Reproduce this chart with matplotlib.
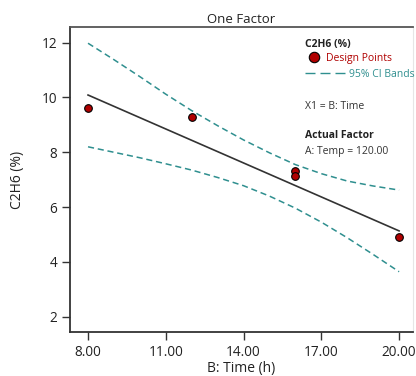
import numpy as np
import matplotlib
matplotlib.use("Agg")
import matplotlib.pyplot as plt
from matplotlib.lines import Line2D

plt.rcParams['font.family'] = ['Open Sans', 'DejaVu Sans']

# ----------------------------------------------------------------------
# Data
# ----------------------------------------------------------------------
time_pts = [8, 12, 16, 16, 20]                  # design points, B: Time (h)
c2h6_pts = [9.60, 9.28, 7.33, 7.14, 4.92]       # C2H6 (%)

fit_x = [8, 20]                                 # predicted line
fit_y = [10.09, 5.13]

band_x = [8, 9, 10, 11, 12, 13, 14, 15, 16, 17, 18, 19, 20]
band_upper = [11.98, 11.38, 10.76, 10.12, 9.52, 8.97, 8.45, 7.98, 7.55, 7.22, 6.95, 6.77, 6.62]
band_lower = [8.20, 8.00, 7.80, 7.58, 7.35, 7.08, 6.78, 6.40, 5.96, 5.45, 4.88, 4.27, 3.64]

x_ticks = [8, 11, 14, 17, 20]
y_ticks = [2, 4, 6, 8, 10, 12]

TEAL = '#2f8f8f'
RED = '#b00000'
LEG_FS = 7.5

# ----------------------------------------------------------------------
# Figure
# ----------------------------------------------------------------------
fig = plt.figure(figsize=(4.16, 3.76), dpi=100)
ax = fig.add_axes([0.168, 0.117, 0.825, 0.811])

ax.plot(band_x, band_upper, color=TEAL, lw=1.1, ls=(0, (4, 2.5)))
ax.plot(band_x, band_lower, color=TEAL, lw=1.1, ls=(0, (4, 2.5)))
ax.plot(fit_x, fit_y, color='#333333', lw=1.2)
ax.plot(time_pts, c2h6_pts, 'o', color=RED, mec='black', mew=0.8, ms=5.5,
        ls='none', zorder=5)

ax.set_xlim(7.3, 20.54)
ax.set_ylim(1.44, 12.57)
ax.set_xticks(x_ticks)
ax.set_xticklabels([f'{v:.2f}' for v in x_ticks])
ax.set_yticks(y_ticks)
ax.tick_params(direction='out', length=6, width=1, labelsize=9.8, pad=3,
               color='#333333', labelcolor='#222222')

for side in ['left', 'bottom']:
    ax.spines[side].set_color('#333333')
    ax.spines[side].set_linewidth(1.3)
ax.spines['top'].set_color('#555555')
ax.spines['top'].set_linewidth(1.3)
ax.spines['right'].set_color('#e6e6e6')
ax.spines['right'].set_linewidth(0.8)

ax.set_xlabel('B: Time (h)', fontsize=10, labelpad=1, color='#222222')
ax.set_ylabel('C2H6 (%)', fontsize=10, labelpad=12, color='#222222')
ax.set_title('One Factor', fontsize=9.5, pad=3, color='#222222')

# ----------------------------------------------------------------------
# Legend / annotation block
# ----------------------------------------------------------------------
ax.text(0.685, 0.944, 'C2H6 (%)', transform=ax.transAxes, fontsize=LEG_FS,
        fontweight='bold', va='center', ha='left', color='#222222')

leg1 = ax.legend(handles=[Line2D([], [], marker='o', ls='none', color=RED,
                                 mec='black', mew=0.8, ms=7.5)],
                 labels=['Design Points'], loc='center left',
                 bbox_to_anchor=(0.693, 0.897), frameon=False, fontsize=LEG_FS,
                 handlelength=1.2, handletextpad=0.6, borderpad=0,
                 borderaxespad=0, labelcolor=RED)
ax.add_artist(leg1)
ax.legend(handles=[Line2D([], [], color=TEAL, lw=1.0, ls=(0, (7.2, 3.6)))],
          labels=['95% CI Bands'], loc='center left',
          bbox_to_anchor=(0.685, 0.845), frameon=False, fontsize=LEG_FS,
          handlelength=3.9, handletextpad=0.3, borderpad=0,
          borderaxespad=0, labelcolor=TEAL)

ax.text(0.685, 0.741, 'X1 = B: Time', transform=ax.transAxes, fontsize=LEG_FS,
        va='center', ha='left', color='#333333')
ax.text(0.685, 0.643, 'Actual Factor', transform=ax.transAxes, fontsize=LEG_FS,
        fontweight='bold', va='center', ha='left', color='#222222')
ax.text(0.685, 0.591, 'A: Temp = 120.00', transform=ax.transAxes,
        fontsize=LEG_FS, va='center', ha='left', color='#333333')

fig.savefig('out.png', dpi=100)
